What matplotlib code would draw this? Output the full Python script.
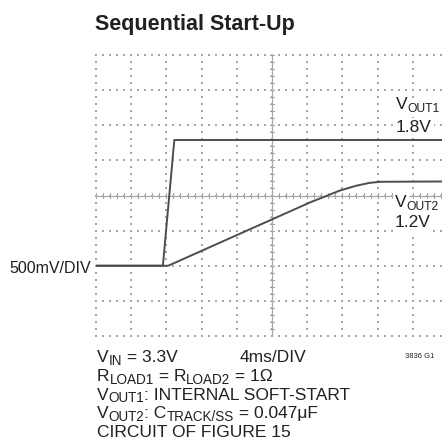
import numpy as np
import matplotlib
matplotlib.use("Agg")
import matplotlib.pyplot as plt
from matplotlib.transforms import IdentityTransform

plt.rcParams['font.family'] = ['Liberation Sans', 'DejaVu Sans']

# Data (time in ms, voltage in V)
t_vout1 = [0, 7.6, 8.9, 20, 30, 40]
v_vout1 = [0, 0, 1.79, 1.79, 1.79, 1.79]
t_vout2 = [0, 8.2, 20.9, 24.3, 27.7, 29.6, 31.1, 32.3, 40]
v_vout2 = [0, 0, 0.71, 0.90, 1.07, 1.14, 1.18, 1.195, 1.2]

W, H = 442, 448
fig = plt.figure(figsize=(W/100, H/100), dpi=100)
ax = fig.add_axes([96/W, (H-336)/H, 352/W, 281/H])
ax.set_xlim(0, 40)
ax.set_ylim(-1, 3)
ax.axis('off')

gc = '#a5a5a5'
# dotted grid
for i in range(11):
    ys = np.arange(-1, 3.001, 0.1)
    ax.scatter(np.full_like(ys, i*4.0), ys, s=0.6, marker='s', color=gc, lw=0, clip_on=False)
for j in range(9):
    xs = np.arange(0, 40.001, 0.8)
    ax.scatter(xs, np.full_like(xs, -1 + 0.5*j), s=0.6, marker='s', color=gc, lw=0, clip_on=False)

# center crosshair with ticks
cc = '#a8a8a8'
ax.plot([20, 20], [-1, 3], color=cc, lw=0.9)
ax.plot([0, 40], [1, 1], color=cc, lw=0.9)
for y in np.arange(-1, 3.001, 0.1):
    ax.plot([19.75, 20.25], [y, y], color=cc, lw=0.8)
for x in np.arange(0, 40.001, 0.8):
    ax.plot([x, x], [0.965, 1.035], color=cc, lw=0.8)

# traces
tc = '#4d4d4d'
ax.plot(t_vout1, v_vout1, color=tc, lw=1.4, zorder=5)
ax.plot(t_vout2, v_vout2, color=tc, lw=1.4, zorder=5)

txt = '#231f20'
renderer = fig.canvas.get_renderer()

def rich(x, y, parts, size, bg=False, subscale=0.78):
    """parts: list of (text, is_sub); x,y in image pixels (top-left origin), y = baseline."""
    cx = x
    for s, sub in parts:
        fs = size * subscale if sub else size
        dy = -size * 0.22 if sub else 0
        t = fig.text(cx, H - y + dy, s, fontsize=fs, va='baseline', ha='left',
                     color=txt, transform=IdentityTransform(), zorder=10)
        if bg:
            t.set_bbox(dict(facecolor='white', edgecolor='none', pad=1.5))
        cx += t.get_window_extent(renderer).width
    return cx

def plain(x, y, s, size, **kw):
    return fig.text(x, H - y, s, fontsize=size, color=txt, transform=IdentityTransform(), **kw)

plain(95, 24, "Sequential Start-Up", 15.5, weight='bold', va='center', ha='left')
plain(91, 268, "500mV/DIV", 11.5, va='center', ha='right')

lbl = 12.5
wbox = dict(facecolor='white', edgecolor='none', pad=1.5)
rich(396, 109, [("V", False), ("OUT1", True)], lbl, bg=True, subscale=0.7)
plain(396, 132, "1.8V", lbl, va='baseline', ha='left', bbox=wbox, zorder=10)
rich(395, 207, [("V", False), ("OUT2", True)], lbl, bg=True, subscale=0.7)
plain(395, 227, "1.2V", lbl, va='baseline', ha='left', bbox=wbox, zorder=10)

lines = [
    [("V", False), ("IN", True), (" = 3.3V", False)],
    [("R", False), ("LOAD1", True), (" = R", False), ("LOAD2", True), (" = 1Ω", False)],
    [("V", False), ("OUT1", True), (": INTERNAL SOFT-START", False)],
    [("V", False), ("OUT2", True), (": C", False), ("TRACK/SS", True), (" = 0.047μF", False)],
    [("CIRCUIT OF FIGURE 15", False)],
]
y0 = 362
fs = 12.5
for k, parts in enumerate(lines):
    rich(97, y0 + k*18.8, parts, fs)
plain(240, 362, "4ms/DIV", fs, va='baseline', ha='left')
plain(405, 358, "3836 G1", 5.5, va='baseline', ha='left')

fig.savefig("out.png", dpi=100)
